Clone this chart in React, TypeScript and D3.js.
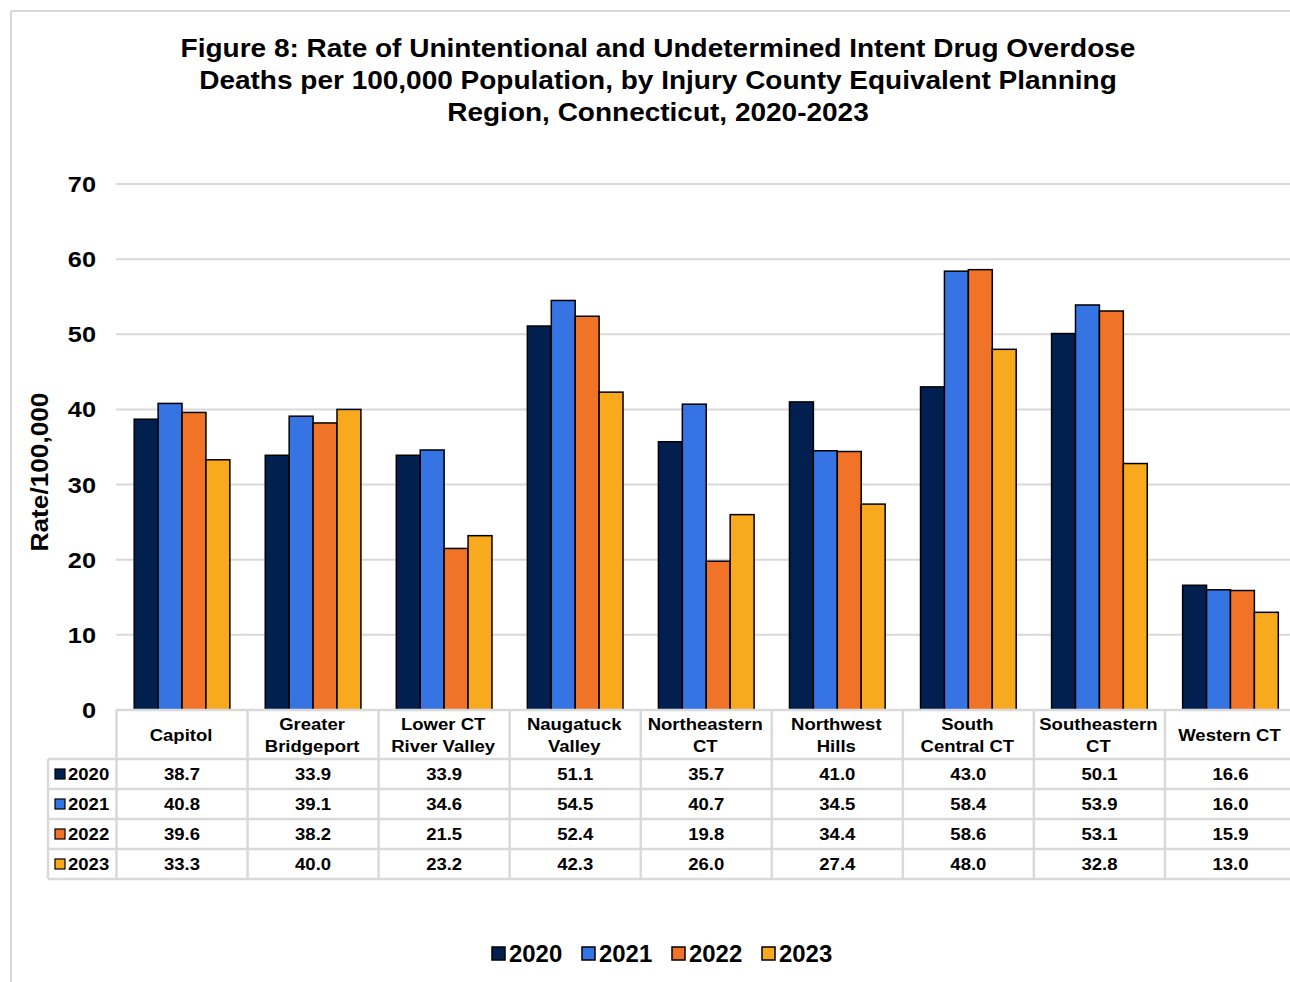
import { useMemo } from 'react';
import * as d3 from 'd3';

// Regions (multi-line labels kept as line arrays)
const regions = [
	['Capitol'],
	['Greater', 'Bridgeport'],
	['Lower CT', 'River Valley'],
	['Naugatuck', 'Valley'],
	['Northeastern', 'CT'],
	['Northwest', 'Hills'],
	['South', 'Central CT'],
	['Southeastern', 'CT'],
	['Western CT'],
];

const years = ['2020', '2021', '2022', '2023'];

const rates2020 = [38.7, 33.9, 33.9, 51.1, 35.7, 41.0, 43.0, 50.1, 16.6];
const rates2021 = [40.8, 39.1, 34.6, 54.5, 40.7, 34.5, 58.4, 53.9, 16.0];
const rates2022 = [39.6, 38.2, 21.5, 52.4, 19.8, 34.4, 58.6, 53.1, 15.9];
const rates2023 = [33.3, 40.0, 23.2, 42.3, 26.0, 27.4, 48.0, 32.8, 13.0];

const yTicks = [0, 10, 20, 30, 40, 50, 60, 70];

const titleLines = [
	'Figure 8: Rate of Unintentional and Undetermined Intent Drug Overdose',
	'Deaths per 100,000 Population, by Injury County Equivalent Planning',
	'Region, Connecticut, 2020-2023',
];

const colors = ['#012050', '#3673E3', '#F07327', '#F9A91E'];

const W = 1290;
const H = 982;
const FONT = 'Liberation Sans, Arial, sans-serif';
const GRID = '#d9d9d9';

// text drawn with a slight horizontal stretch, the source font runs wider than Liberation Sans
function T({
	x,
	y,
	sx = 1,
	rotate = 0,
	size,
	anchor = 'start',
	children,
}: {
	x: number;
	y: number;
	sx?: number;
	rotate?: number;
	size: number;
	anchor?: string;
	children: any;
}) {
	return (
		<text
			transform={`translate(${x},${y}) rotate(${rotate}) scale(${sx},1)`}
			textAnchor={anchor}
			fontSize={size}
			fill="#000"
		>
			{children}
		</text>
	);
}

export default function App() {
	const series = [rates2020, rates2021, rates2022, rates2023];
	const names = regions.map((r) => r.join(' '));

	// plot area spans past the right edge of the picture, as in the source
	const x = useMemo(
		() => d3.scaleBand<string>().domain(names).range([116.5, 1296]).paddingInner(0.27).paddingOuter(0.135),
		[]
	);
	const xOuter = useMemo(() => d3.scaleBand<string>().domain(names).range([116.5, 1296]), []);
	const xInner = useMemo(() => d3.scaleBand<string>().domain(years).range([0, x.bandwidth()]), [x]);
	const y = useMemo(() => d3.scaleLinear().domain([0, 70]).range([710, 184]), []);

	const headerTop = 710;
	const headerBottom = 759;
	const rowH = 30;
	const tableLeft = 48;
	const tableBottom = headerBottom + rowH * years.length;
	const legendX = [492, 582, 672, 762];

	return (
		<svg
			width={W}
			height={H}
			style={{ position: 'absolute', left: 0, top: 0, background: '#fff' }}
			fontFamily={FONT}
			fontWeight="bold"
		>
			<rect x={0} y={0} width={W} height={H} fill="#fff" />
			{/* chart frame (left and top visible) */}
			<line x1={11} x2={W} y1={11} y2={11} stroke={GRID} strokeWidth={2} />
			<line x1={11} x2={11} y1={11} y2={H} stroke={GRID} strokeWidth={2} />

			{/* title */}
			{titleLines.map((t, i) => (
				<T key={t} x={658} y={57 + i * 32} sx={1.12} size={25} anchor="middle">
					{t}
				</T>
			))}

			{/* gridlines + tick labels */}
			{yTicks.map((t) => (
				<g key={t}>
					{t > 0 && <line x1={116} x2={W} y1={y(t)} y2={y(t)} stroke={GRID} strokeWidth={2} />}
					<T x={96} y={y(t) + 8} sx={1.15} size={22} anchor="end">
						{t}
					</T>
				</g>
			))}

			{/* axis title */}
			<T x={48} y={472} rotate={-90} sx={1.14} size={23} anchor="middle">
				Rate/100,000
			</T>

			{/* bars */}
			{names.map((name, ci) => (
				<g key={name} transform={`translate(${x(name)}, 0)`}>
					{years.map((yr, si) => {
						const v = series[si][ci];
						return (
							<rect
								key={yr}
								x={xInner(yr)}
								y={y(v)}
								width={xInner.bandwidth()}
								height={y(0) - y(v)}
								fill={colors[si]}
								stroke="#000"
								strokeWidth={1.5}
							/>
						);
					})}
				</g>
			))}

			{/* data table */}
			<g stroke={GRID} strokeWidth={2.5}>
				<line x1={116} x2={W} y1={headerTop} y2={headerTop} />
				{[0, 1, 2, 3, 4].map((i) => (
					<line key={i} x1={tableLeft} x2={W} y1={headerBottom + i * rowH} y2={headerBottom + i * rowH} />
				))}
				<line x1={tableLeft} x2={tableLeft} y1={headerBottom} y2={tableBottom} />
				{names.map((name) => (
					<line key={name} x1={xOuter(name)} x2={xOuter(name)} y1={headerTop} y2={tableBottom} />
				))}
			</g>

			{/* header labels */}
			{regions.map((lines, ci) => {
				const cx = (xOuter(names[ci]) ?? 0) + xOuter.bandwidth() / 2 - 1;
				const mid = (headerTop + headerBottom) / 2;
				return (
					<g key={names[ci]}>
						{lines.map((l, li) => (
							<T key={l} x={cx} y={mid + 6 + (li - (lines.length - 1) / 2) * 22} sx={1.09} size={17} anchor="middle">
								{l}
							</T>
						))}
					</g>
				);
			})}

			{/* rows */}
			{years.map((yr, si) => {
				const ry = headerBottom + si * rowH + rowH / 2;
				return (
					<g key={yr}>
						<rect x={55} y={ry - 5} width={10} height={10} fill={colors[si]} stroke="#000" strokeWidth={1.2} />
						<T x={68} y={ry + 6} sx={1.09} size={17}>
							{yr}
						</T>
						{names.map((name, ci) => (
							<T
								key={name}
								x={(xOuter(name) ?? 0) + xOuter.bandwidth() / 2}
								y={ry + 6}
								sx={1.09}
								size={17}
								anchor="middle"
							>
								{d3.format('.1f')(series[si][ci])}
							</T>
						))}
					</g>
				);
			})}

			{/* legend */}
			{years.map((yr, si) => (
				<g key={yr}>
					<rect x={legendX[si]} y={947} width={13} height={13} fill={colors[si]} stroke="#000" strokeWidth={1.5} />
					<T x={legendX[si] + 17} y={962} sx={1.04} size={23}>
						{yr}
					</T>
				</g>
			))}
		</svg>
	);
}
